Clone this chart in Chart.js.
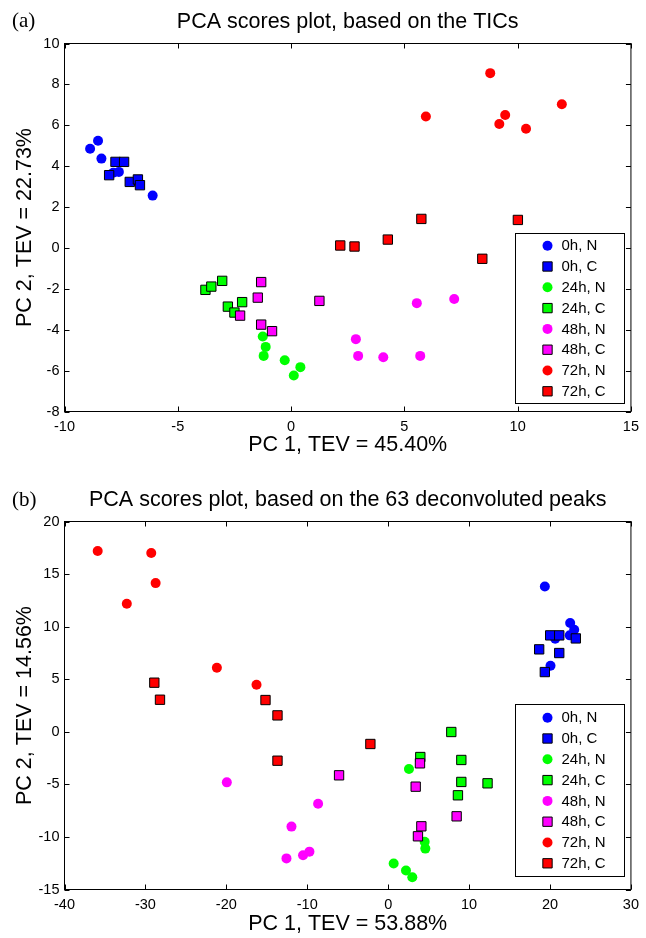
<!DOCTYPE html>
<html>
<head>
<meta charset="utf-8">
<title>PCA scores plots</title>
<script src="https://cdn.jsdelivr.net/npm/chart.js@4.4.1/dist/chart.umd.min.js"></script>
<style>
  html, body { margin: 0; padding: 0; background: #fff; }
  body { width: 646px; height: 938px; position: relative; overflow: hidden; }
  canvas { position: absolute; left: 0; }
  #ticChart { top: 0; }
  #peakChart { top: 469px; }
</style>
</head>
<body>
<canvas id="ticChart" width="646" height="469"></canvas>
<canvas id="peakChart" width="646" height="469"></canvas>
<script>
// sample groups, same order in both plots and legends
const groupLabels = ['0h, N', '0h, C', '24h, N', '24h, C', '48h, N', '48h, C', '72h, N', '72h, C'];

// (a) scores based on the TICs, [PC 1, PC 2]
const tic0hN  = [[-8.87, 4.85], [-8.52, 5.24], [-8.37, 4.37], [-7.85, 3.68], [-7.6, 3.72], [-6.11, 2.56]];
const tic0hC  = [[-7.75, 4.21], [-7.37, 4.21], [-8.03, 3.56], [-7.12, 3.23], [-6.76, 3.35], [-6.67, 3.07]];
const tic24hN = [[-1.25, -4.33], [-1.12, -4.84], [-1.21, -5.28], [-0.28, -5.49], [0.41, -5.83], [0.12, -6.24]];
const tic24hC = [[-3.78, -2.05], [-3.52, -1.89], [-3.04, -1.61], [-2.79, -2.87], [-2.5, -3.16], [-2.16, -2.65]];
const tic48hN = [[2.86, -4.46], [2.96, -5.28], [4.07, -5.35], [5.7, -5.28], [5.55, -2.7], [7.2, -2.5]];
const tic48hC = [[-1.32, -1.67], [-1.47, -2.43], [-2.25, -3.31], [-1.32, -3.75], [-0.84, -4.07], [1.25, -2.59]];
const tic72hN = [[8.79, 8.55], [5.95, 6.43], [9.45, 6.5], [9.19, 6.06], [10.37, 5.83], [11.95, 7.03]];
const tic72hC = [[2.17, 0.12], [2.8, 0.07], [4.27, 0.41], [5.75, 1.42], [10.01, 1.37], [8.44, -0.53]];
const ticXTicks = [-10, -5, 0, 5, 10, 15];
const ticYTicks = [-8, -6, -4, -2, 0, 2, 4, 6, 8, 10];

// (b) scores based on the 63 deconvoluted peaks, [PC 1, PC 2]
const peak0hN  = [[19.36, 13.82], [22.49, 10.34], [22.99, 9.71], [22.44, 9.17], [20.64, 8.85], [20.06, 6.28]];
const peak0hC  = [[20.02, 9.17], [21.14, 9.17], [23.19, 8.88], [18.66, 7.84], [21.14, 7.49], [19.36, 5.68]];
const peak24hN = [[2.57, -3.54], [4.51, -10.47], [4.59, -11.11], [0.68, -12.53], [2.2, -13.2], [2.98, -13.84]];
const peak24hC = [[7.8, -0.02], [3.97, -2.4], [9.04, -2.68], [9.04, -4.77], [12.28, -4.9], [8.62, -6.04]];
const peak48hN = [[-19.94, -4.81], [-8.66, -6.84], [-11.95, -9.02], [-9.73, -11.4], [-10.52, -11.75], [-12.57, -12.04]];
const peak48hC = [[-6.07, -4.14], [3.93, -3.0], [3.4, -5.22], [4.1, -8.99], [3.68, -9.94], [8.46, -8.04]];
const peak72hN = [[-35.9, 17.19], [-29.28, 17.0], [-28.74, 14.14], [-32.3, 12.18], [-21.17, 6.09], [-16.27, 4.48]];
const peak72hC = [[-28.9, 4.67], [-28.2, 3.05], [-15.16, 3.02], [-13.68, 1.56], [-13.68, -2.75], [-2.2, -1.16]];
const peakXTicks = [-40, -30, -20, -10, 0, 10, 20, 30];
const peakYTicks = [-15, -10, -5, 0, 5, 10, 15, 20];

// marker look per group
const groupColors = ['#0000ff', '#0000ff', '#00ff00', '#00ff00', '#ff00ff', '#ff00ff', '#ff0000', '#ff0000'];
const groupShapes = ['circle', 'rect', 'circle', 'rect', 'circle', 'rect', 'circle', 'rect'];

const SANS = '"Liberation Sans", Arial, Helvetica, sans-serif';

function buildDatasets(groups) {
    return groups.map((pts, i) => {
        const square = groupShapes[i] === 'rect';
        return {
            label: groupLabels[i],
            data: pts.map(p => ({ x: p[0], y: p[1] })),
            pointStyle: groupShapes[i],
            pointRadius: square ? 6.6 : 5,
            pointHoverRadius: square ? 6.6 : 5,
            backgroundColor: groupColors[i],
            borderColor: square ? '#000' : groupColors[i],
            borderWidth: square ? 1 : 0,
            // later groups are painted on top, as in the original
            order: groups.length - i
        };
    });
}

// box round the plot with inward ticks on all four sides
const axesBox = {
    id: 'axesBox',
    afterDatasetsDraw(chart) {
        const { ctx, chartArea: a, scales: { x, y } } = chart;
        const len = 5;
        ctx.save();
        ctx.strokeStyle = '#000';
        ctx.lineWidth = 1;
        ctx.beginPath();
        x.ticks.forEach(t => {
            const px = Math.round(x.getPixelForValue(t.value)) + 0.5;
            ctx.moveTo(px, a.bottom); ctx.lineTo(px, a.bottom - len);
            ctx.moveTo(px, a.top); ctx.lineTo(px, a.top + len);
        });
        y.ticks.forEach(t => {
            const py = Math.round(y.getPixelForValue(t.value)) + 0.5;
            ctx.moveTo(a.left, py); ctx.lineTo(a.left + len, py);
            ctx.moveTo(a.right, py); ctx.lineTo(a.right - len, py);
        });
        ctx.stroke();
        ctx.strokeRect(a.left, a.top, a.right - a.left, a.bottom - a.top);
        ctx.restore();
    }
};

// framed legend inside the plot, drawn from the datasets
const boxLegend = {
    id: 'boxLegend',
    afterDraw(chart, args, opts) {
        const { ctx } = chart;
        const rowH = 20.8;
        const sets = chart.data.datasets;
        ctx.save();
        ctx.fillStyle = '#fff';
        ctx.fillRect(opts.left, opts.top, opts.width, opts.height);
        ctx.strokeStyle = '#000';
        ctx.lineWidth = 1;
        ctx.strokeRect(opts.left, opts.top, opts.width, opts.height);
        const first = opts.top + (opts.height - rowH * (sets.length - 1)) / 2;
        ctx.font = '15px ' + SANS;
        ctx.textBaseline = 'middle';
        sets.forEach((ds, i) => {
            const cy = first + i * rowH;
            ctx.fillStyle = ds.backgroundColor;
            ctx.strokeStyle = ds.borderColor;
            ctx.lineWidth = ds.borderWidth;
            Chart.helpers.drawPoint(ctx, {
                pointStyle: ds.pointStyle,
                radius: ds.pointRadius,
                rotation: 0,
                borderWidth: ds.borderWidth
            }, opts.left + 32, cy);
            ctx.fillStyle = '#000';
            ctx.fillText(ds.label, opts.left + 46, cy + 0.5);
        });
        ctx.restore();
    }
};

// "(a)" / "(b)" in the top left corner
const panelTag = {
    id: 'panelTag',
    afterDraw(chart, args, opts) {
        const { ctx } = chart;
        ctx.save();
        ctx.font = '21px "Liberation Serif", "Times New Roman", serif';
        ctx.fillStyle = '#000';
        ctx.textBaseline = 'middle';
        ctx.fillText(opts.text, opts.x, opts.y);
        ctx.restore();
    }
};

function makePcaChart(id, c) {
    const tickFont = { family: SANS, size: 14.5 };
    const labelFont = { family: SANS, size: 21.5, lineHeight: 1.2 };
    return new Chart(document.getElementById(id), {
        type: 'scatter',
        data: { datasets: buildDatasets(c.groups) },
        plugins: [axesBox, boxLegend, panelTag],
        options: {
            responsive: false,
            animation: false,
            events: [],
            layout: { padding: { left: 0, right: 13.5, top: 0, bottom: 0 } },
            plugins: {
                legend: { display: false },
                tooltip: { enabled: false },
                title: {
                    display: true,
                    text: c.title,
                    color: '#000',
                    fullSize: false,
                    font: { family: SANS, size: 21.5, weight: 'normal', lineHeight: 1.2 },
                    padding: { top: c.titleTop, bottom: c.titleBottom }
                },
                boxLegend: c.legendBox,
                panelTag: c.tag
            },
            scales: {
                x: {
                    type: 'linear',
                    min: c.xTicks[0],
                    max: c.xTicks[c.xTicks.length - 1],
                    afterBuildTicks: s => { s.ticks = c.xTicks.map(v => ({ value: v })); },
                    afterFit: s => { s.height = c.xAxisHeight; },
                    grid: { display: false, drawTicks: false },
                    border: { display: false },
                    ticks: { color: '#000', font: tickFont, padding: 7, maxRotation: 0, autoSkip: false },
                    title: {
                        display: true, text: c.xLabel, color: '#000', font: labelFont,
                        padding: { top: 0, bottom: c.xTitleBottom }
                    }
                },
                y: {
                    type: 'linear',
                    min: c.yTicks[0],
                    max: c.yTicks[c.yTicks.length - 1],
                    afterBuildTicks: s => { s.ticks = c.yTicks.map(v => ({ value: v })); },
                    afterFit: s => { s.width = 64.5; },
                    grid: { display: false, drawTicks: false },
                    border: { display: false },
                    ticks: { color: '#000', font: tickFont, padding: 5, autoSkip: false },
                    title: {
                        display: true, text: c.yLabel, color: '#000', font: labelFont,
                        padding: { top: 12.1, bottom: 0 }
                    }
                }
            }
        }
    });
}

document.addEventListener('DOMContentLoaded', function() {
    makePcaChart('ticChart', {
        groups: [tic0hN, tic0hC, tic24hN, tic24hC, tic48hN, tic48hC, tic72hN, tic72hC],
        xTicks: ticXTicks,
        yTicks: ticYTicks,
        title: 'PCA scores plot, based on the TICs',
        xLabel: 'PC 1, TEV = 45.40%',
        yLabel: 'PC 2, TEV = 22.73%',
        titleTop: 9.1, titleBottom: 8.6,
        xAxisHeight: 57.5, xTitleBottom: 10.6,
        legendBox: { left: 515.5, top: 233.5, width: 109, height: 170 },
        tag: { text: '(a)', x: 12, y: 21 }
    });

    makePcaChart('peakChart', {
        groups: [peak0hN, peak0hC, peak24hN, peak24hC, peak48hN, peak48hC, peak72hN, peak72hC],
        xTicks: peakXTicks,
        yTicks: peakYTicks,
        title: 'PCA scores plot, based on the 63 deconvoluted peaks',
        xLabel: 'PC 1, TEV = 53.88%',
        yLabel: 'PC 2, TEV = 14.56%',
        titleTop: 18.1, titleBottom: 8.6,
        xAxisHeight: 48.5, xTitleBottom: 1.3,
        legendBox: { left: 515.5, top: 235.5, width: 109, height: 172 },
        tag: { text: '(b)', x: 12, y: 31 }
    });
});
</script>
</body>
</html>
